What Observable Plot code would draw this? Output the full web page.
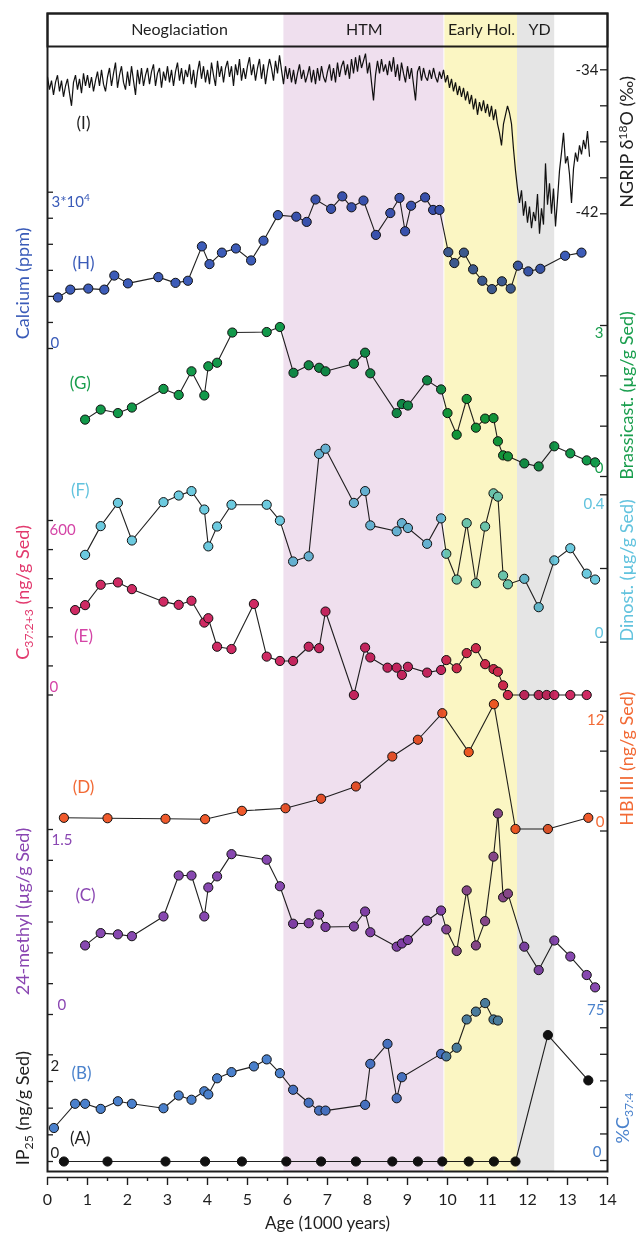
<!DOCTYPE html>
<html><head><meta charset="utf-8">
<script src="https://cdn.jsdelivr.net/npm/d3@7"></script>
<script src="https://cdn.jsdelivr.net/npm/@observablehq/plot@0.6"></script>
<style>
html,body{margin:0;padding:0;background:#fff;}
#chart{position:relative;width:636px;height:1239px;overflow:hidden;}
</style></head><body><div id="chart"></div>
<script>
// ---------------- DATA ----------------
const ageTicks = [0,1,2,3,4,5,6,7,8,9,10,11,12,13,14];
const ageMinorTicks = [0.5,1.5,2.5,3.5,4.5,5.5,6.5,7.5,8.5,9.5,10.5,11.5,12.5,13.5];
const periods = ["Neoglaciation","HTM","Early Hol.","YD"];
const periodCenters = [3.3,7.92,10.85,12.3];
const bandStart = [5.91,9.935,11.75];
const bandEnd = [9.91,11.75,12.68];

// NGRIP d18O, one value every 0.05 kyr from 0 to 13.55
const ngripStep = 0.05;
const ngripD18O = [
-34.4,-35.1,-34.6,-35.4,-34.7,-34.3,-35.2,-34.6,-35.5,-34.9,
-34.5,-35.3,-36.0,-34.7,-34.3,-35.1,-34.5,-35.3,-34.2,-34.9,
-34.3,-35.0,-34.4,-35.2,-34.6,-34.1,-34.9,-34.0,-34.8,-35.2,
-34.4,-33.9,-34.9,-34.2,-33.6,-35.0,-34.3,-33.8,-34.7,-35.1,
-34.1,-34.9,-33.8,-34.6,-35.4,-34.0,-34.8,-33.9,-34.9,-34.3,
-33.9,-34.8,-34.1,-33.7,-34.9,-34.2,-33.9,-35.0,-34.1,-34.6,
-33.8,-34.7,-34.0,-34.9,-34.1,-33.6,-34.6,-33.9,-34.8,-34.0,
-34.4,-33.7,-34.8,-34.0,-35.0,-34.1,-33.5,-34.5,-33.8,-34.7,
-34.0,-34.8,-33.6,-34.3,-34.9,-33.5,-34.4,-33.8,-34.7,-33.9,
-33.5,-34.4,-33.8,-34.9,-33.7,-34.3,-33.4,-34.6,-33.9,-34.5,
-33.8,-33.3,-34.3,-33.7,-34.6,-33.9,-33.4,-34.5,-33.7,-34.8,
-34.0,-33.4,-33.9,-34.6,-33.5,-34.2,-33.2,-34.0,-34.8,-33.8,
-34.5,-33.9,-34.7,-34.0,-34.8,-34.2,-33.7,-34.5,-34.0,-34.7,
-34.3,-33.8,-34.7,-34.0,-34.8,-33.9,-34.6,-33.8,-34.4,-34.7,
-34.1,-33.7,-34.6,-33.9,-34.7,-33.6,-34.4,-33.8,-33.5,-34.3,
-33.7,-34.5,-33.4,-34.2,-33.3,-34.1,-33.2,-33.9,-33.5,-33.1,
-34.2,-33.6,-34.7,-35.7,-34.3,-33.5,-34.2,-33.4,-34.1,-33.7,
-34.3,-33.5,-34.1,-33.3,-34.4,-33.7,-34.6,-33.6,-34.2,-34.7,
-33.8,-34.5,-33.9,-34.8,-35.7,-34.1,-33.8,-34.6,-33.9,-34.4,
-34.6,-34.0,-34.5,-33.9,-34.4,-34.7,-34.1,-34.5,-34.0,-34.7,
-34.3,-35.0,-34.5,-35.2,-34.7,-35.4,-34.9,-35.5,-35.0,-35.7,
-35.2,-35.9,-35.4,-36.2,-35.6,-36.5,-35.8,-36.3,-35.7,-36.4,
-35.9,-36.6,-36.0,-36.8,-36.2,-37.0,-37.5,-38.2,-37.0,-36.5,
-36.0,-36.4,-37.0,-38.4,-39.6,-40.6,-41.4,-40.7,-42.1,-41.3,
-42.5,-41.6,-42.8,-41.9,-42.4,-40.9,-43.1,-41.7,-42.6,-39.2,
-41.5,-40.3,-42.0,-40.6,-42.7,-41.2,-39.6,-38.6,-37.5,-39.2,
-38.8,-39.8,-41.4,-39.5,-38.6,-39.1,-38.2,-38.7,-37.9,-38.4,
-37.4,-38.8];

// (H) Calcium (ppm)
const caAge = [0.26,0.57,1.02,1.42,1.67,2.01,2.77,3.20,3.51,3.86,4.05,4.36,4.71,5.09,5.40,5.76,6.22,6.48,6.70,7.09,7.37,7.60,7.90,8.21,8.57,8.80,8.94,9.09,9.44,9.64,9.80,10.02,10.17,10.41,10.64,10.87,11.11,11.36,11.58,11.76,12.02,12.32,12.94,13.35];
const caVal = [9800,11300,11500,11300,14000,12500,13700,12600,13000,19600,16200,18400,19200,16900,20700,25600,25300,24300,28600,26800,29200,27100,28400,21800,26000,28900,22500,27400,29000,26600,26600,18500,16400,18400,15200,13000,11400,12900,11500,15900,14800,15300,17800,18400];

// (G) Brassicasterol (ug/g Sed)
const gAge = [0.94,1.33,1.76,2.11,2.90,3.28,3.60,3.92,4.02,4.24,4.62,5.48,5.81,6.15,6.53,6.79,6.95,7.66,7.94,8.07,8.73,8.86,9.01,9.49,9.84,10.00,10.23,10.48,10.71,10.94,11.15,11.26,11.39,11.51,11.92,12.28,12.67,13.07,13.48,13.69];
const gVal = [1.13,1.33,1.26,1.37,1.74,1.62,2.09,1.61,2.19,2.26,2.86,2.87,2.97,2.06,2.21,2.16,2.09,2.24,2.46,2.05,1.26,1.44,1.41,1.91,1.73,1.26,0.83,1.54,0.97,1.15,1.16,0.70,0.42,0.40,0.26,0.20,0.60,0.46,0.32,0.28];

// (F) Dinosterol (ug/g Sed)
const fAge = [0.94,1.33,1.76,2.11,2.90,3.28,3.60,3.92,4.02,4.24,4.60,5.48,5.81,6.14,6.53,6.79,6.95,7.66,7.94,8.07,8.73,8.86,9.01,9.49,9.84,9.97,10.23,10.48,10.71,10.94,11.15,11.26,11.39,11.51,11.92,12.28,12.67,13.07,13.48,13.69];
const fVal = [0.237,0.315,0.378,0.276,0.380,0.398,0.410,0.360,0.260,0.314,0.373,0.373,0.330,0.219,0.233,0.511,0.525,0.378,0.410,0.317,0.301,0.323,0.310,0.267,0.336,0.240,0.170,0.323,0.160,0.314,0.404,0.395,0.181,0.157,0.172,0.095,0.222,0.255,0.186,0.170];

// (E) C37:2+3 alkenones (ng/g Sed)
const eAge = [0.69,0.94,1.33,1.76,2.11,2.90,3.28,3.60,3.92,4.02,4.24,4.60,5.16,5.48,5.81,6.14,6.53,6.79,6.95,7.66,7.94,8.07,8.50,8.73,8.86,9.01,9.49,9.84,9.97,10.23,10.48,10.71,10.94,11.15,11.26,11.39,11.51,11.92,12.28,12.48,12.67,13.07,13.48];
const eVal = [292,309,379,387,364,321,310,324,249,264,166,158,313,132,117,117,166,161,287,0,163,129,94,94,69,97,77,86,120,92,144,161,106,89,80,33,0,0,0,0,0,0,0];

// (D) HBI III (ng/g Sed)
const dAge = [0.41,1.50,2.95,3.94,4.86,5.95,6.84,7.71,8.62,9.26,9.87,10.53,11.16,11.70,12.51,13.52];
const dVal = [1.32,1.28,1.22,1.18,2.02,2.28,3.23,4.46,7.46,9.14,11.8,7.9,12.7,0.2,0.2,1.32];

// (C) 24-methyl (ug/g Sed)
const cAge = [0.94,1.33,1.76,2.11,2.90,3.28,3.60,3.92,4.02,4.24,4.60,5.48,5.81,6.14,6.53,6.79,6.95,7.66,7.94,8.07,8.73,8.86,9.01,9.49,9.84,9.97,10.23,10.48,10.71,10.94,11.15,11.26,11.39,11.51,11.92,12.28,12.67,13.07,13.48,13.69];
const cVal = [0.56,0.66,0.65,0.635,0.795,1.127,1.127,0.795,1.03,1.12,1.30,1.255,1.04,0.736,0.74,0.81,0.71,0.714,0.835,0.667,0.55,0.576,0.604,0.76,0.843,0.69,0.515,1.006,0.56,0.757,1.28,1.63,0.95,0.98,0.55,0.36,0.60,0.47,0.32,0.22];

// (B) %C37:4
const bAge = [0.16,0.69,0.94,1.33,1.76,2.11,2.90,3.28,3.60,3.92,4.02,4.24,4.60,5.16,5.48,5.81,6.14,6.53,6.79,6.95,7.94,8.07,8.50,8.73,8.86,9.84,9.97,10.23,10.48,10.71,10.94,11.15,11.26];
const bVal = [15.3,26.7,26.7,24.3,27.9,26.7,24.6,30.6,28.6,32.6,31.1,38.7,41.6,44.3,47.6,41.1,33.3,27.2,23.5,23.5,26.2,45.5,54.9,29.3,39.2,50.2,49.0,53.1,66.4,70.1,74.1,66.4,65.9];

// (A) IP25 (ng/g Sed)
const aAge = [0.41,1.50,2.95,3.94,4.86,5.97,6.84,7.71,8.62,9.26,9.87,10.53,11.16,11.70,12.51,13.52];
const aVal = [0,0,0,0,0,0,0,0,0,0,0,0,0,0,2.37,1.52];

// ---------------- LAYOUT ----------------
const W = 636, H = 1239;
const ML = 47, MR = 29, MT = 13, MB = 68;
const FONT = "Lato, 'Open Sans', sans-serif";
const INK = "#1e1e1e";
const chart = document.getElementById("chart");

function place(svg, top, blend) {
  svg.style.position = "absolute";
  svg.style.left = "0px";
  svg.style.top = top + "px";
  svg.style.background = "transparent";
  svg.style.overflow = "visible";
  svg.style.maxWidth = "none";
  if (blend) svg.style.mixBlendMode = "multiply";
  chart.appendChild(svg);
}
function fullPlot(y, marks) {
  return Plot.plot({
    width: W, height: H, marginLeft: ML, marginRight: MR, marginTop: MT, marginBottom: MB,
    x: {domain: [0, 14], axis: null},
    y: Object.assign({axis: null}, y),
    marks
  });
}

// base frame
place(fullPlot({domain: [0, 1]}, [Plot.frame({stroke: INK, strokeWidth: 2})]), 0);

// header
place(Plot.plot({
  width: W, height: 46, marginLeft: ML, marginRight: MR, marginTop: MT, marginBottom: 0,
  x: {domain: [0, 14], axis: null},
  marks: [
    Plot.frame({stroke: INK, strokeWidth: 2}),
    Plot.text(periods, {x: (d, i) => periodCenters[i], text: d => d, frameAnchor: "middle",
      fontSize: 16, fontFamily: FONT, fill: INK})
  ]
}), 0);

// panel configs (layout/style)
const panels = [
  {ages: null, vals: null, color: null, side: "right", domain: [-42, -34], range: [213.3, 69.3],
   ticks: [-42, -40, -38, -36, -34], tickColor: INK,
   top: {t: "-34", v: -34, dx: -9, dy: 0}, bottom: {t: "-42", v: -42, dx: -9, dy: -2},
   title: {t: "NGRIP δ18O (‰)", v: -38, color: INK},
   label: {t: "(I)", x: 0.9, v: -36.98, color: INK}},
  {ages: caAge, vals: caVal, color: "#3d5cb8", side: "left", domain: [0, 30000], range: [348, 191.7],
   ticks: [0, 5000, 10000, 15000, 20000, 25000, 30000], tickColor: "#3a5bb8",
   top: {t: "3*10^4", v: 30000, dx: 4, dy: 10}, bottom: {t: "0", v: 0, dx: 3, dy: -5},
   title: {t: "Calcium (ppm)", v: 12500, color: "#3a5bb8"},
   label: {t: "(H)", x: 0.9, v: 16370, color: "#3a5bb8"}},
  {ages: gAge, vals: gVal, color: "#12994a", side: "right", domain: [0, 3], range: [476, 325],
   ticks: [0, 1, 2, 3], tickColor: "#1a9e4e",
   top: {t: "3", v: 3, dx: -4, dy: 8}, bottom: {t: "0", v: 0, dx: -4, dy: -8},
   title: {t: "Brassicast. (µg/g Sed)", v: 1.61, color: "#1a9e4e"},
   label: {t: "(G)", x: 0.82, v: 1.85, color: "#1a9e4e"}},
  {ages: fAge, vals: fVal, color: "#6ccadf", side: "right", domain: [0, 0.4], range: [641.7, 494.3],
   ticks: [0, 0.2, 0.4], tickColor: "#62c3de",
   top: {t: "0.4", v: 0.4, dx: -3, dy: 9}, bottom: {t: "0", v: 0, dx: -4, dy: -9},
   title: {t: "Dinost. (µg/g Sed)", v: 0.195, color: "#62c3de"},
   label: {t: "(F)", x: 0.82, v: 0.412, color: "#62c3de"}},
  {ages: eAge, vals: eVal, color: "#cf2a63", side: "left", domain: [0, 600], range: [694.5, 520],
   ticks: [0, 100, 200, 300, 400, 500, 600], tickColor: "#d444a6",
   top: {t: "600", v: 600, dx: 2, dy: 10}, bottom: {t: "0", v: 0, dx: 2, dy: -8},
   title: {t: "C37:2+3 (ng/g Sed)", v: 353, color: "#e23a6e"},
   label: {t: "(E)", x: 0.9, v: 200, color: "#d444a6"}},
  {ages: dAge, vals: dVal, color: "#f05a2c", side: "right", domain: [0, 12], range: [830.5, 710.7],
   ticks: [0, 4, 8, 12], tickColor: "#f26a35",
   top: {t: "12", v: 12, dx: -3, dy: 9}, bottom: {t: "0", v: 0, dx: -3, dy: -9},
   title: {t: "HBI III (ng/g Sed)", v: 7.26, color: "#f26a35"},
   label: {t: "(D)", x: 0.9, v: 4.39, color: "#f26a35"}},
  {ages: cAge, vals: cVal, color: "#8748b0", side: "left", domain: [0, 1.5], range: [1014, 829],
   ticks: [0, 0.25, 0.5, 0.75, 1, 1.25, 1.5], tickColor: "#8a46b2",
   top: {t: "1.5", v: 1.5, dx: 4, dy: 11}, bottom: {t: "0", v: 0, dx: 10, dy: -9},
   title: {t: "24-methyl (µg/g Sed)", v: 0.835, color: "#8a46b2"},
   label: {t: "(C)", x: 0.95, v: 0.965, color: "#8a46b2"}},
  {ages: bAge, vals: bVal, color: "#4a80cc", side: "right", domain: [0, 75], range: [1160, 1000.7],
   ticks: [0, 12.5, 25, 37.5, 50, 62.5, 75], tickColor: "#4a82cc",
   top: {t: "75", v: 75, dx: -3, dy: 9}, bottom: {t: "0", v: 0, dx: -6, dy: -8},
   title: {t: "%C37:4", v: 8, color: "#4a82cc", anchor: "start", dx: 16},
   label: {t: "(B)", x: 0.85, v: 41, color: "#4a82cc"}},
  {ages: aAge, vals: aVal, color: "#111111", side: "left", domain: [0, 2], range: [1161, 1054.3],
   ticks: [0, 0.5, 1, 1.5, 2], tickColor: INK,
   top: {t: "2", v: 2, dx: 3, dy: 11}, bottom: {t: "0", v: 0, dx: 3, dy: -8},
   title: {t: "IP25 (ng/g Sed)", v: 1.0, color: INK},
   label: {t: "(A)", x: 0.82, v: 0.43, color: INK}}
];
panels[0].ngrip = ngripD18O.map((v, i) => ({age: +(i * ngripStep).toFixed(2), v}));

for (const p of panels) {
  const left = p.side === "left";
  const marks = [];
  if (p.ngrip) {
    marks.push(Plot.line(p.ngrip, {x: "age", y: "v", stroke: "#111", strokeWidth: 1.2, strokeLinejoin: "miter"}));
  } else {
    const data = p.ages.map((a, i) => ({age: a, v: p.vals[i]}));
    marks.push(Plot.line(data, {x: "age", y: "v", stroke: "#222", strokeWidth: 1.1}));
    marks.push(Plot.dot(data, {x: "age", y: "v", r: 4.6, fill: p.color, stroke: "#111", strokeWidth: 1}));
  }
  marks.push(Plot.axisY({anchor: p.side, ticks: p.ticks, tickSize: left ? -6 : -8, fill: "none", stroke: INK, strokeWidth: 1.3}));
  for (const lb of [p.top, p.bottom]) {
    marks.push(Plot.text([lb.t], {x: left ? 0 : 14, y: lb.v, text: d => d, dx: lb.dx, dy: lb.dy,
      textAnchor: left ? "start" : "end", fill: p.tickColor, fontSize: 15, fontFamily: FONT}));
  }
  marks.push(Plot.text([p.title.t], {frameAnchor: left ? "left" : "right", y: p.title.v, text: d => d,
    dx: p.title.dx !== undefined ? p.title.dx : (left ? -24.5 : 19.5), rotate: -90, textAnchor: p.title.anchor || "middle",
    fill: p.title.color, fontSize: 18, fontFamily: FONT}));
  marks.push(Plot.text([p.label.t], {x: p.label.x, y: p.label.v, text: d => d,
    fill: p.label.color, fontSize: 17, fontFamily: FONT}));
  place(fullPlot({domain: p.domain, range: p.range}, marks), 0);
}

// x axis below the frame
place(Plot.plot({
  width: W, height: 68, marginLeft: ML, marginRight: MR, marginTop: 0, marginBottom: 62,
  x: {domain: [0, 14], axis: null},
  y: {domain: [0, 1], axis: null},
  marks: [
    Plot.ruleY([0], {stroke: INK, strokeWidth: 1.6}),
    Plot.axisX({anchor: "bottom", ticks: ageTicks, tickSize: 8, tickPadding: 8, label: null,
      fontSize: 16, fontFamily: FONT, stroke: INK, fill: INK, strokeWidth: 1.4}),
    Plot.axisX({anchor: "bottom", ticks: ageMinorTicks, tickSize: 4, fill: "none", stroke: INK, strokeWidth: 1.4}),
    Plot.text(["Age (1000 years)"], {x: 7, frameAnchor: "bottom", dy: 51, text: d => d,
      fontSize: 17, fontFamily: FONT, fill: INK})
  ]
}), 1171);

// shaded periods, blended over everything
const bands = bandStart.map((s, i) => ({x1: s, x2: bandEnd[i], fill: ["#efdfee", "#fbf6c3", "#e5e5e5"][i]}));
place(fullPlot({domain: [0, 1]}, [Plot.rect(bands, {x1: "x1", x2: "x2", fill: "fill"})]), 0, true);

// rich text: sub/superscripts
const rich = {
  "NGRIP δ18O (‰)": [["NGRIP δ"], ["18", "sup"], ["O (‰)"]],
  "C37:2+3 (ng/g Sed)": [["C"], ["37:2+3", "sub"], [" (ng/g Sed)"]],
  "IP25 (ng/g Sed)": [["IP"], ["25", "sub"], [" (ng/g Sed)"]],
  "%C37:4": [["%C"], ["37:4", "sub"]],
  "3*10^4": [["3*10"], ["4", "sup"]]
};
d3.selectAll("#chart text").each(function () {
  const parts = rich[this.textContent];
  if (!parts) return;
  const el = d3.select(this);
  el.text("");
  let shift = 0;
  for (const [s, k] of parts) {
    const t = el.append("tspan").text(s);
    const target = k === "sub" ? 4 : k === "sup" ? -6 : 0;
    if (target !== shift) { t.attr("dy", target - shift); shift = target; }
    if (k) t.attr("font-size", "68%");
  }
});
</script></body></html>
